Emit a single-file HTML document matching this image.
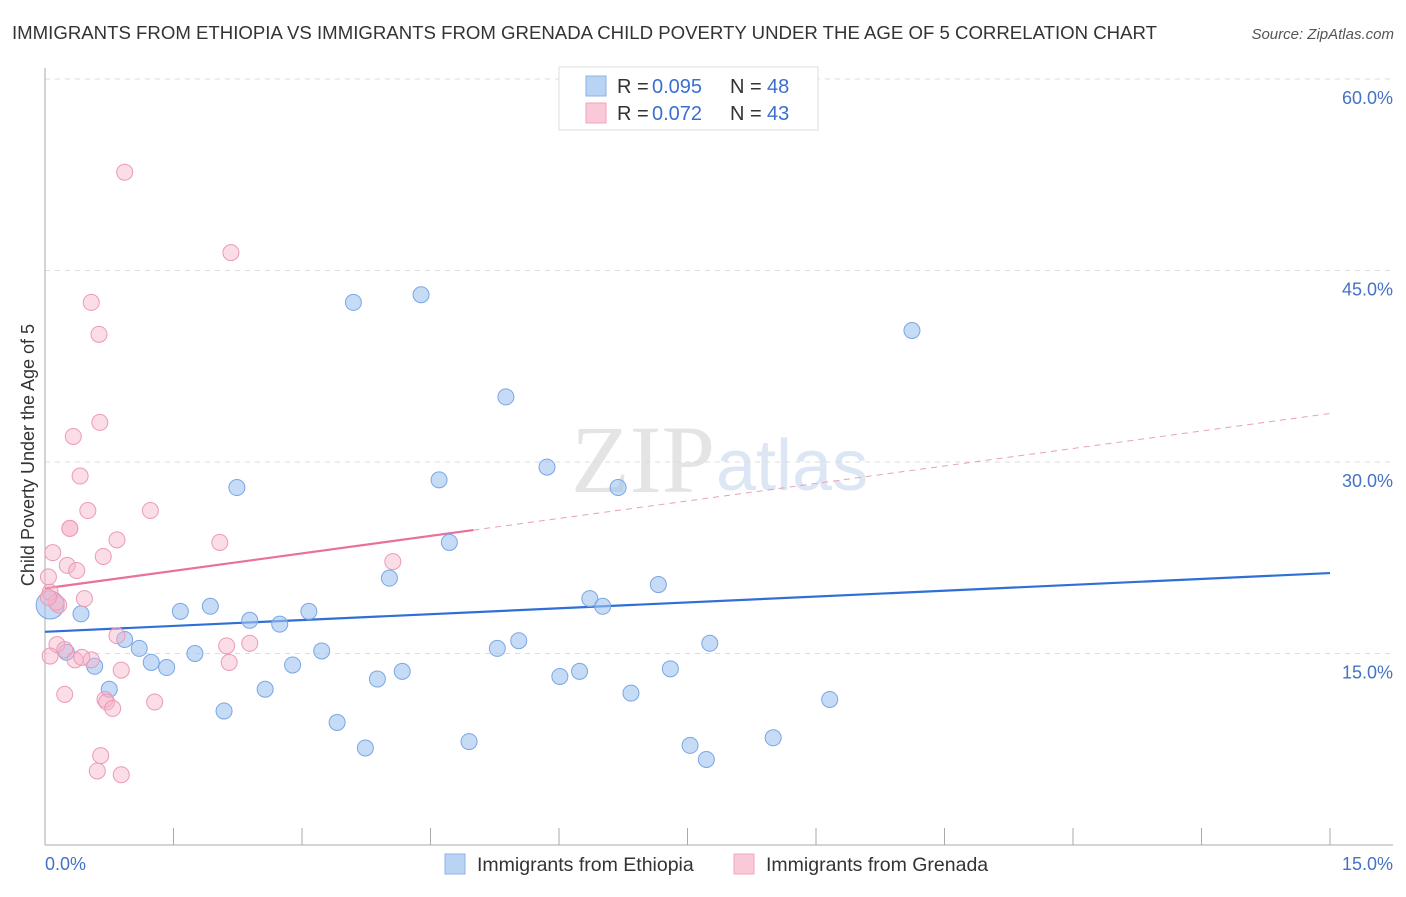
<!DOCTYPE html>
<html><head><meta charset="utf-8"><style>
body{margin:0;background:#fff;font-family:"Liberation Sans",sans-serif;}
</style></head><body>
<svg id="chart" width="1406" height="892" xmlns="http://www.w3.org/2000/svg" font-family="Liberation Sans, sans-serif">
<text x="12" y="39" font-size="18" fill="#333" textLength="1145" lengthAdjust="spacingAndGlyphs">IMMIGRANTS FROM ETHIOPIA VS IMMIGRANTS FROM GRENADA CHILD POVERTY UNDER THE AGE OF 5 CORRELATION CHART</text>
<text x="1394" y="39" font-size="15" fill="#555" font-style="italic" text-anchor="end">Source: ZipAtlas.com</text>
<text x="715" y="492" font-size="96" fill="#e4e4e4" text-anchor="end" font-family="Liberation Serif, serif">ZIP</text>
<text x="716" y="490" font-size="72" fill="#dce6f4">atlas</text>
<g id="grid"></g><g id="axes"></g><g id="lines"></g><g id="pts"></g>
<text transform="translate(34,455) rotate(-90)" font-size="18" fill="#333" text-anchor="middle">Child Poverty Under the Age of 5</text>
<text x="45" y="870" font-size="18" fill="#4472c4">0.0%</text>
<text x="1393" y="870" font-size="18" fill="#4472c4" text-anchor="end">15.0%</text>
<g>
<rect x="559" y="67" width="259" height="63" fill="#fff" stroke="#ddd"/>
<rect x="586" y="76" width="20" height="20" fill="#b9d3f5" stroke="#8fb3e6"/>
<rect x="586" y="103" width="20" height="20" fill="#f9c9d8" stroke="#efa5be"/>
<text x="617" y="93" font-size="20" fill="#333">R =</text>
<text x="652" y="93" font-size="20" fill="#3a6fd0">0.095</text>
<text x="730" y="93" font-size="20" fill="#333">N =</text>
<text x="767" y="93" font-size="20" fill="#3a6fd0">48</text>
<text x="617" y="120" font-size="20" fill="#333">R =</text>
<text x="652" y="120" font-size="20" fill="#3a6fd0">0.072</text>
<text x="730" y="120" font-size="20" fill="#333">N =</text>
<text x="767" y="120" font-size="20" fill="#3a6fd0">43</text>
</g>
<g>
<rect x="445" y="854" width="20" height="20" fill="#b9d3f5" stroke="#8fb3e6"/>
<text x="477" y="871" font-size="19.5" fill="#333">Immigrants from Ethiopia</text>
<rect x="734" y="854" width="20" height="20" fill="#f9c9d8" stroke="#efa5be"/>
<text x="766" y="871" font-size="19.5" fill="#333">Immigrants from Grenada</text>
</g>
</svg>
<script>
const yTicks=[15,30,45,60];
const xTicks=[0,1.5,3,4.5,6,7.5,9,10.5,12,13.5,15];
const blueX=[0.06,0.25,0.42,0.58,0.75,0.93,1.10,1.24,1.42,1.58,1.75,1.93,2.09,2.24,2.39,2.57,2.74,2.89,3.08,3.23,3.41,3.60,3.74,3.88,4.02,4.17,4.39,4.60,4.72,4.95,5.28,5.38,5.53,5.86,6.01,6.24,6.36,6.51,6.69,6.84,7.16,7.30,7.53,7.72,7.76,8.50,9.16,10.12];
const blueY=[18.8,15.1,18.1,14.0,12.2,16.1,15.4,14.3,13.9,18.3,15.0,18.7,10.5,28.0,17.6,12.2,17.3,14.1,18.3,15.2,9.6,42.5,7.6,13.0,20.9,13.6,43.1,28.6,23.7,8.1,15.4,35.1,16.0,29.6,13.2,13.6,19.3,18.7,28.0,11.9,20.4,13.8,7.8,6.7,15.8,8.4,11.4,40.3];
const pinkX=[0.93,2.17,0.54,0.63,0.64,0.33,0.41,0.29,0.50,1.23,0.84,2.04,0.09,0.68,0.26,0.37,0.04,0.06,0.16,0.46,4.06,0.84,2.12,2.39,0.14,0.23,0.35,0.06,0.54,2.15,0.89,0.23,0.70,0.72,0.79,1.28,0.65,0.61,0.89,0.13,0.29,0.43,0.04];
const pinkY=[52.7,46.4,42.5,40.0,33.1,32.0,28.9,24.8,26.2,26.2,23.9,23.7,22.9,22.6,21.9,21.5,21.0,19.8,18.8,19.3,22.2,16.4,15.6,15.8,15.7,15.3,14.5,14.8,14.5,14.3,13.7,11.8,11.4,11.2,10.7,11.2,7.0,5.8,5.5,19.0,24.8,14.7,19.4];
const blueTrend=[16.7,21.3];
const pinkTrend=[20.1,33.8];
const pinkSolidEnd=5.0;
const NS="http://www.w3.org/2000/svg";
const X=v=>45+v*1285/15, Y=v=>845-v*191.5/15;
function mk(t,a,p){const e=document.createElementNS(NS,t);for(const k in a)e.setAttribute(k,a[k]);document.getElementById(p).appendChild(e);return e;}
yTicks.forEach(t=>{
 const l=mk('line',{x1:45,x2:1393,y1:Y(t),y2:Y(t),stroke:'#ddd','stroke-dasharray':'5,5'},'grid');
 
 
 const tx=mk('text',{x:1393,y:Y(t)+25,'font-size':18,fill:'#4472c4','text-anchor':'end'},'grid');
 tx.textContent=t.toFixed(1)+'%';
 
 
});
let a=mk('line',{x1:45,x2:45,y1:68,y2:845,stroke:'#aaa'},'axes');


a=mk('line',{x1:45,x2:1393,y1:845,y2:845,stroke:'#aaa'},'axes');


xTicks.forEach(t=>{
 const l=mk('line',{x1:X(t),x2:X(t),y1:828,y2:845,stroke:'#aaa'},'axes');
 
 
});
let tl=mk('line',{x1:X(0),y1:Y(blueTrend[0]),x2:X(15),y2:Y(blueTrend[1]),stroke:'#2f6fd6','stroke-width':2.2},'lines');


const pAt=x=>pinkTrend[0]+(pinkTrend[1]-pinkTrend[0])*x/15;
tl=mk('line',{x1:X(0),y1:Y(pinkTrend[0]),x2:X(pinkSolidEnd),y2:Y(pAt(pinkSolidEnd)),stroke:'#e8709a','stroke-width':2.2},'lines');


tl=mk('line',{x1:X(pinkSolidEnd),y1:Y(pAt(pinkSolidEnd)),x2:X(15),y2:Y(pinkTrend[1]),stroke:'#e8a0b8','stroke-width':1,'stroke-dasharray':'6,5'},'lines');


blueX.forEach((x,i)=>{
 const c=mk('circle',{cx:X(x),cy:Y(blueY[i]),r:i==0?14:8,fill:'rgba(160,195,240,0.6)',stroke:'#7aa6e3','stroke-width':1},'pts');
 
 
});
pinkX.forEach((x,i)=>{
 const c=mk('circle',{cx:X(x),cy:Y(pinkY[i]),r:8,fill:'rgba(246,180,202,0.45)',stroke:'#eb9ab6','stroke-width':1},'pts');
 
 
});
</script>
</body></html>
